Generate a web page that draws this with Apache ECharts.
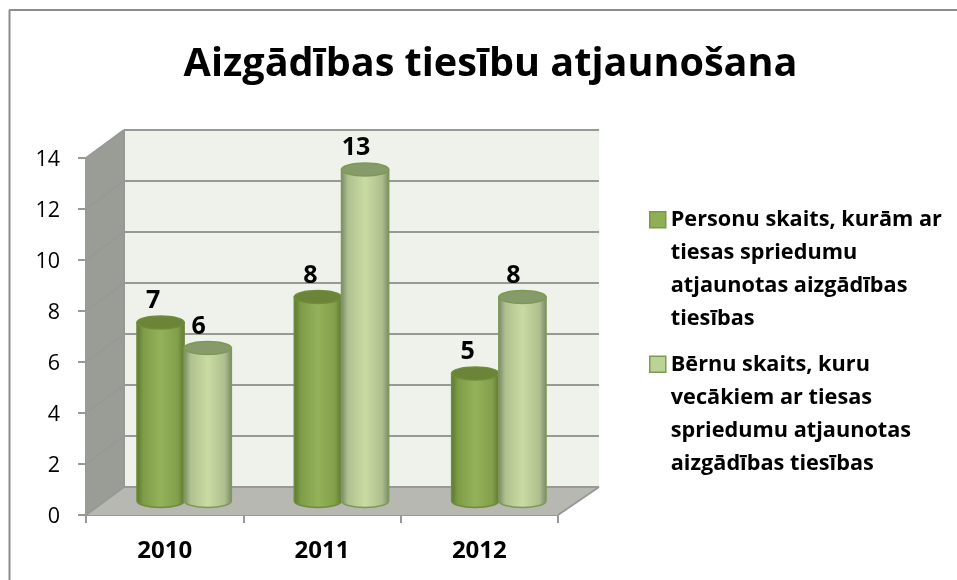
<!DOCTYPE html>
<html><head><meta charset="utf-8">
<style>html,body{margin:0;padding:0;background:#fff}#c{width:957px;height:580px}</style>
<script src="https://cdn.jsdelivr.net/npm/echarts@6/dist/echarts.min.js"></script>
</head><body><div id="c"></div>
<script>
const titleText = 'Aizgādības tiesību atjaunošana';
const categories = ['2010', '2011', '2012'];
const personValues = [7, 8, 5];
const childValues = [6, 13, 8];
const personName = 'Personu skaits, kurām ar tiesas spriedumu atjaunotas aizgādības tiesības';
const childName = 'Bērnu skaits, kuru vecākiem ar tiesas spriedumu atjaunotas aizgādības tiesības';
const legendLines = {
  [personName]: ['Personu skaits, kurām ar', 'tiesas spriedumu', 'atjaunotas aizgādības', 'tiesības'],
  [childName]: ['Bērnu skaits, kuru', 'vecākiem ar tiesas', 'spriedumu atjaunotas', 'aizgādības tiesības']
};
const valueTicks = [0, 2, 4, 6, 8, 10, 12, 14];

const FONT = '"Open Sans"';
const DX = 38, DXR = 41, DY = -28;  // depth of the 3D box
const GRID = '#979997';

function sceneItem(params, api) {
  const cs = params.coordSys;
  const l = cs.x, r = cs.x + cs.width;
  const y0 = api.coord([0, 0])[1], yT = api.coord([0, 14])[1];
  const children = [];
  const poly = (pts, fill) => children.push({type: 'polygon', shape: {points: pts}, style: {fill: fill}});
  const line = (a, b, w) => children.push({type: 'line', shape: {x1: a[0], y1: a[1], x2: b[0], y2: b[1]},
    style: {stroke: GRID, lineWidth: w || 2}});
  poly([[l + DX, yT + DY], [r + DXR, yT + DY], [r + DXR, y0 + DY], [l + DX, y0 + DY]], '#eff2eb');
  poly([[l, yT], [l + DX, yT + DY], [l + DX, y0 + DY], [l, y0]], '#9a9c96');
  poly([[l, y0], [l + DX, y0 + DY], [r + DXR, y0 + DY], [r, y0]], '#b6b8b1');
  valueTicks.forEach(function (v) {
    const y = api.coord([0, v])[1];
    line([l, y], [l + DX, y + DY]);
    line([l + DX, y + DY], [r + DXR, y + DY]);
  });
  line([l + DX, yT + DY], [l + DX, y0 + DY]);
  line([r, y0], [r + DXR, y0 + DY]);
  return {type: 'group', children: children};
}

function cylinderItem(side, labelShift, colors) {
  return function (params, api) {
    const cat = api.value(0), val = api.value(1);
    const band = api.size([1, 0])[0];
    const rx = band * 0.15;
    const cx = api.coord([cat, 0])[0] + DX / 2 + side * rx + 0.5;
    const yTop = api.coord([cat, val])[1] + DY / 2;
    const yBot = api.coord([cat, 0])[1] + DY / 2;
    const ry = 6.5;
    const k = 0.5523;
    const grad = {type: 'linear', x: 0, y: 0, x2: 1, y2: 0, colorStops: colors.body};
    const bodyPath =
      'M' + (cx - rx) + ' ' + yTop +
      'L' + (cx - rx) + ' ' + yBot +
      'C' + (cx - rx) + ' ' + (yBot + ry * k) + ' ' + (cx - rx * k) + ' ' + (yBot + ry) + ' ' + cx + ' ' + (yBot + ry) +
      'C' + (cx + rx * k) + ' ' + (yBot + ry) + ' ' + (cx + rx) + ' ' + (yBot + ry * k) + ' ' + (cx + rx) + ' ' + yBot +
      'L' + (cx + rx) + ' ' + yTop + 'Z';
    return {type: 'group', children: [
      {type: 'path', shape: {pathData: bodyPath, layout: 'cover',
          x: cx - rx, y: yTop, width: 2 * rx, height: yBot + ry - yTop},
        style: {fill: grad, stroke: colors.edge, lineWidth: 1.5}},
      {type: 'ellipse', shape: {cx: cx, cy: yTop, rx: rx, ry: ry},
        style: {fill: colors.top, stroke: colors.edge, lineWidth: 1.5}},
      {type: 'text', style: {text: String(val), x: cx + labelShift, y: yTop - 21.5, align: 'center', verticalAlign: 'middle',
        font: 'bold 25px ' + FONT, fill: '#000'}}
    ]};
  };
}

const darkColors = {
  edge: '#6f8c3c', top: '#6c8438',
  body: [{offset: 0, color: '#5a7430'}, {offset: 0.15, color: '#7f9d47'}, {offset: 0.5, color: '#94b259'},
         {offset: 0.85, color: '#829f4a'}, {offset: 1, color: '#5c7631'}]
};
const lightColors = {
  edge: '#7d9a55', top: '#879a6a',
  body: [{offset: 0, color: '#76836a'}, {offset: 0.15, color: '#afc28e'}, {offset: 0.5, color: '#c9dba3'},
         {offset: 0.85, color: '#aebf8d'}, {offset: 1, color: '#78866a'}]
};

const chart = echarts.init(document.getElementById('c'), null, {renderer: 'canvas'});
chart.setOption({
  animation: false,
  backgroundColor: '#fff',
  title: {
    text: titleText, left: 485.5, top: 40, textAlign: 'center',
    textStyle: {fontFamily: FONT, fontWeight: 'bold', fontSize: 39.6, color: '#000'}
  },
  legend: {
    left: 644, top: 198, orient: 'vertical', itemWidth: 16, itemHeight: 132, itemGap: 11,
    data: [
      {name: personName, icon: 'path://M0 8H16V24H0Z M0 0 M16 132', itemStyle: {color: '#8faf55', borderColor: '#7a9a45', borderWidth: 1.5}},
      {name: childName, icon: 'path://M0 8H16V24H0Z M0 0 M16 132', itemStyle: {color: '#bcd398', borderColor: '#7d9a55', borderWidth: 1.5}}
    ],
    formatter: function (n) { return legendLines[n].join('\n'); },
    textStyle: {fontFamily: FONT, fontWeight: 'bold', fontSize: 21.7, lineHeight: 33, color: '#000'}
  },
  grid: {left: 86, right: 399, top: 158, bottom: 65, containLabel: false},
  xAxis: {
    type: 'category', data: categories,
    axisLine: {lineStyle: {color: GRID, width: 2}},
    axisTick: {show: true, alignWithLabel: false, length: 8, lineStyle: {color: GRID, width: 2}},
    axisLabel: {margin: 24, fontFamily: FONT, fontWeight: 'bold', fontSize: 24, color: '#000'}
  },
  yAxis: {
    type: 'value', min: 0, max: 14, interval: 2,
    axisLine: {show: true, lineStyle: {color: GRID, width: 2}},
    axisTick: {show: true, length: 8, lineStyle: {color: GRID, width: 2}},
    splitLine: {show: false},
    axisLabel: {margin: 26, verticalAlign: 'top', lineHeight: 3, fontFamily: FONT, fontSize: 21.5, color: '#000'}
  },
  graphic: [
    {type: 'line', shape: {x1: 9, y1: 10, x2: 957, y2: 10}, style: {stroke: '#8c8c8c', lineWidth: 2}, silent: true},
    {type: 'line', shape: {x1: 9.5, y1: 10, x2: 9.5, y2: 580}, style: {stroke: '#8c8c8c', lineWidth: 2}, silent: true}
  ],
  series: [
    {type: 'custom', name: 'scene', coordinateSystem: 'cartesian2d', data: [[0, 0]], renderItem: sceneItem, z: 1, silent: true},
    {type: 'custom', name: personName, coordinateSystem: 'cartesian2d', z: 3, silent: true,
      data: personValues.map((v, i) => [i, v]), renderItem: cylinderItem(-1, -7.5, darkColors), encode: {x: 0, y: 1}},
    {type: 'custom', name: childName, coordinateSystem: 'cartesian2d', z: 4, silent: true,
      data: childValues.map((v, i) => [i, v]), renderItem: cylinderItem(1, -9, lightColors), encode: {x: 0, y: 1}}
  ]
});
</script></body></html>
